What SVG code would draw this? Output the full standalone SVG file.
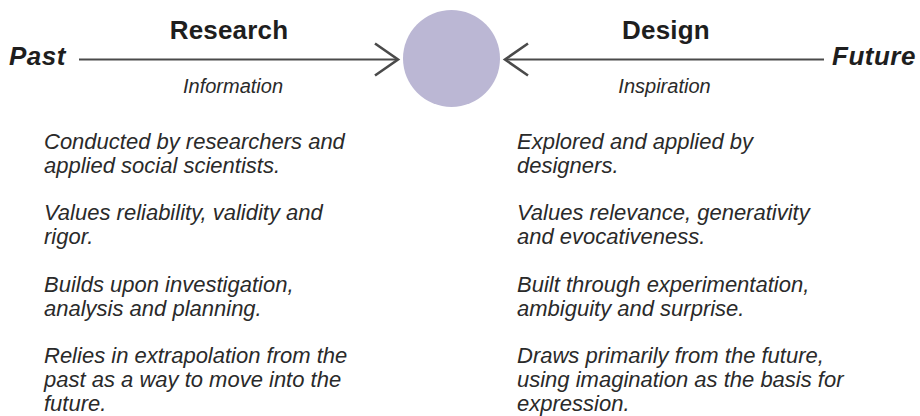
<svg xmlns="http://www.w3.org/2000/svg" width="920" height="416" viewBox="0 0 920 416">
<defs>
<style>
.head{font-family:"Liberation Sans",Arial,sans-serif;font-weight:bold;font-size:26px;letter-spacing:0.2px;fill:#1e1e1e;text-anchor:middle}
.end{font-family:"Liberation Sans",Arial,sans-serif;font-weight:bold;font-style:italic;font-size:26px;letter-spacing:0.5px;fill:#1e1e1e}
.sub{font-family:"Liberation Sans",Arial,sans-serif;font-style:italic;font-size:20px;fill:#2a2a2a;text-anchor:middle}
.body{font-family:"Liberation Sans",Arial,sans-serif;font-style:italic;font-size:22px;fill:#2a2a2a}
.conn{stroke:#4a4a4a;stroke-width:2.2;fill:none}
</style>
<marker id="chev" viewBox="-26 -19 29 38" markerWidth="29" markerHeight="38" refX="0" refY="0" markerUnits="userSpaceOnUse" orient="auto">
<path d="M -23 -16 L 0 0 L -23 16" fill="none" stroke="#4a4a4a" stroke-width="2.6" stroke-linejoin="miter"/>
</marker>
</defs>
<rect width="920" height="416" fill="#ffffff"/>
<g id="connectors">
<line class="conn" x1="79" y1="59.5" x2="398" y2="59.5" marker-end="url(#chev)"/>
<line class="conn" x1="824" y1="59.5" x2="505" y2="59.5" marker-end="url(#chev)"/>
</g>
<g id="center"><circle cx="451.5" cy="58.5" r="48.5" fill="#bbb7d4"/></g>
<g id="past"><text class="end" x="9" y="65">Past</text></g>
<g id="future"><text class="end" x="832" y="65">Future</text></g>
<g id="research"><text class="head" x="229" y="39">Research</text></g>
<g id="information"><text class="sub" x="233" y="92.5">Information</text></g>
<g id="design"><text class="head" x="666" y="39">Design</text></g>
<g id="inspiration"><text class="sub" x="664.5" y="92.5">Inspiration</text></g>
<g id="research-notes" class="body">
<text x="44" y="149">Conducted by researchers and</text>
<text x="44" y="172.8">applied social scientists.</text>
<text x="44" y="220.4">Values reliability, validity and</text>
<text x="44" y="244.2">rigor.</text>
<text x="44" y="291.8">Builds upon investigation,</text>
<text x="44" y="315.6">analysis and planning.</text>
<text x="44" y="363.2">Relies in extrapolation from the</text>
<text x="44" y="387">past as a way to move into the</text>
<text x="44" y="410.8">future.</text>
</g>
<g id="design-notes" class="body">
<text x="517" y="149">Explored and applied by</text>
<text x="517" y="172.8">designers.</text>
<text x="517" y="220.4">Values relevance, generativity</text>
<text x="517" y="244.2">and evocativeness.</text>
<text x="517" y="291.8">Built through experimentation,</text>
<text x="517" y="315.6">ambiguity and surprise.</text>
<text x="517" y="363.2">Draws primarily from the future,</text>
<text x="517" y="387">using imagination as the basis for</text>
<text x="517" y="410.8">expression.</text>
</g>
</svg>
